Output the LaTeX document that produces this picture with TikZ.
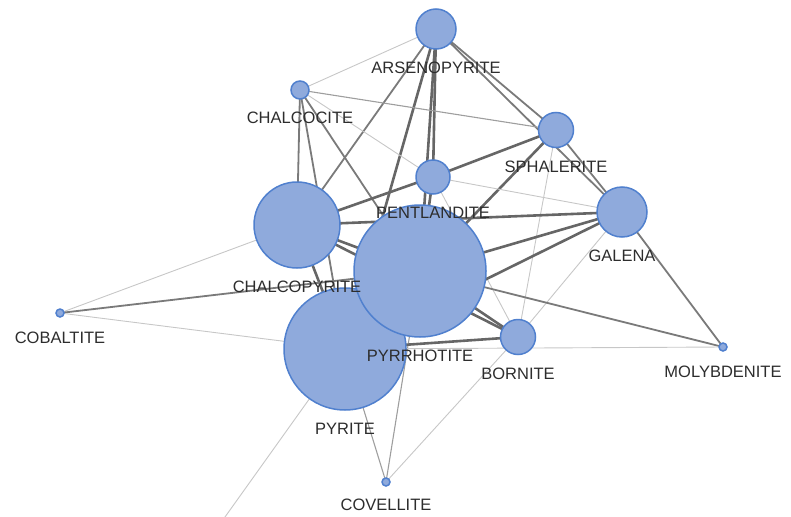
\documentclass[tikz,border=0pt]{standalone}
\usepackage{fontspec}
\setmainfont{Liberation Sans}
\usetikzlibrary{positioning,backgrounds}
\definecolor{nodefill}{RGB}{143,170,220}
\definecolor{nodeline}{RGB}{80,128,206}
\definecolor{labelgray}{RGB}{45,45,45}

\begin{document}
\begin{tikzpicture}[x=1pt, y=-1pt,
    mineral/.style={circle, fill=nodefill, draw=nodeline, line width=1.5pt,
        inner sep=0pt, outer sep=0pt, minimum size=#1},
    every label/.style={font=\fontsize{16.5}{16.5}\selectfont, text=labelgray, inner sep=0pt},
    label distance=13pt,
    heavy/.style={line width=2.6pt, black!60},
    medium/.style={line width=1.8pt, black!52},
    thin/.style={line width=1.1pt, black!38},
    light/.style={line width=0.9pt, black!22}]
    \useasboundingbox (0,0) rectangle (791,516);
    \clip (0,0) rectangle (791,516);

    % Minerals (big ones first, so the labels sit on top)
    \node[mineral=122pt, label=below:PYRITE] (py) at (345,349) {};
    \node[mineral=132pt, label=below:PYRRHOTITE] (po) at (420,271) {};
    \node[mineral=86pt, label=below:CHALCOPYRITE] (ccp) at (297,225) {};
    \node[mineral=34pt, label=below:PENTLANDITE] (pnt) at (433,177) {};
    \node[mineral=40pt, label=below:ARSENOPYRITE] (ars) at (436,29) {};
    \node[mineral=18pt, label=below:CHALCOCITE] (chc) at (300,90) {};
    \node[mineral=35pt, label=below:SPHALERITE] (sph) at (556,130) {};
    \node[mineral=50pt, label=below:GALENA] (gal) at (622,212) {};
    \node[mineral=35pt, label=below:BORNITE] (bn) at (518,337) {};
    \node[mineral=8pt, label={[label distance=15pt]below:COBALTITE}] (cob) at (60,313) {};
    \node[mineral=8pt, label={[label distance=15pt]below:MOLYBDENITE}] (mol) at (723,347) {};
    \node[mineral=8pt, label={[label distance=13pt]below:COVELLITE}] (cv) at (386,482) {};
    \coordinate (out) at (190,566);

    % Co-occurrence links
    \begin{scope}[on background layer]
        % arsenopyrite
        \draw[light] (ars) -- (chc);
        \draw[medium] (ars) -- (sph);
        \draw[medium] (ars) -- (gal);
        \draw[medium] (ars) -- (ccp);
        \draw[heavy] (ars) -- (py);
        \draw[heavy] (ars) -- (pnt);
        \draw[heavy] (ars) -- (po);
        % chalcocite
        \draw[thin] (chc) -- (sph);
        \draw[medium] (chc) -- (ccp);
        \draw[medium] (chc) -- (py);
        \draw[medium] (chc) -- (po);
        \draw[light] (chc) -- (pnt);
        % sphalerite
        \draw[heavy] (sph) -- (pnt);
        \draw[heavy] (sph) -- (po);
        \draw[light] (sph) -- (bn);
        \draw[medium] (sph) -- (gal);
        % pentlandite
        \draw[heavy] (pnt) -- (ccp);
        \draw[light] (pnt) -- (gal);
        \draw[heavy] (pnt) -- (po);
        \draw[light] (pnt) -- (bn);
        % galena
        \draw[heavy] (gal) -- (ccp);
        \draw[heavy] (gal) -- (po);
        \draw[heavy] (gal) -- (py);
        \draw[light] (gal) -- (bn);
        \draw[medium] (gal) -- (mol);
        % chalcopyrite
        \draw[heavy] (ccp) -- (po);
        \draw[heavy] (ccp) -- (bn);
        \draw[heavy] (ccp) -- (py);
        \draw[light] (ccp) -- (cob);
        % pyrrhotite
        \draw[heavy] (po) -- (bn);
        \draw[medium] (po) -- (mol);
        \draw[thin] (po) -- (cv);
        \draw[medium] (po) -- (cob);
        \draw[heavy] (po) -- (py);
        % pyrite
        \draw[heavy] (py) -- (bn);
        \draw[light] (py) -- (mol);
        \draw[thin] (py) -- (cv);
        \draw[light] (py) -- (cob);
        \draw[light] (py) -- (out);
        % bornite
        \draw[light] (bn) -- (cv);
    \end{scope}
\end{tikzpicture}
\end{document}
